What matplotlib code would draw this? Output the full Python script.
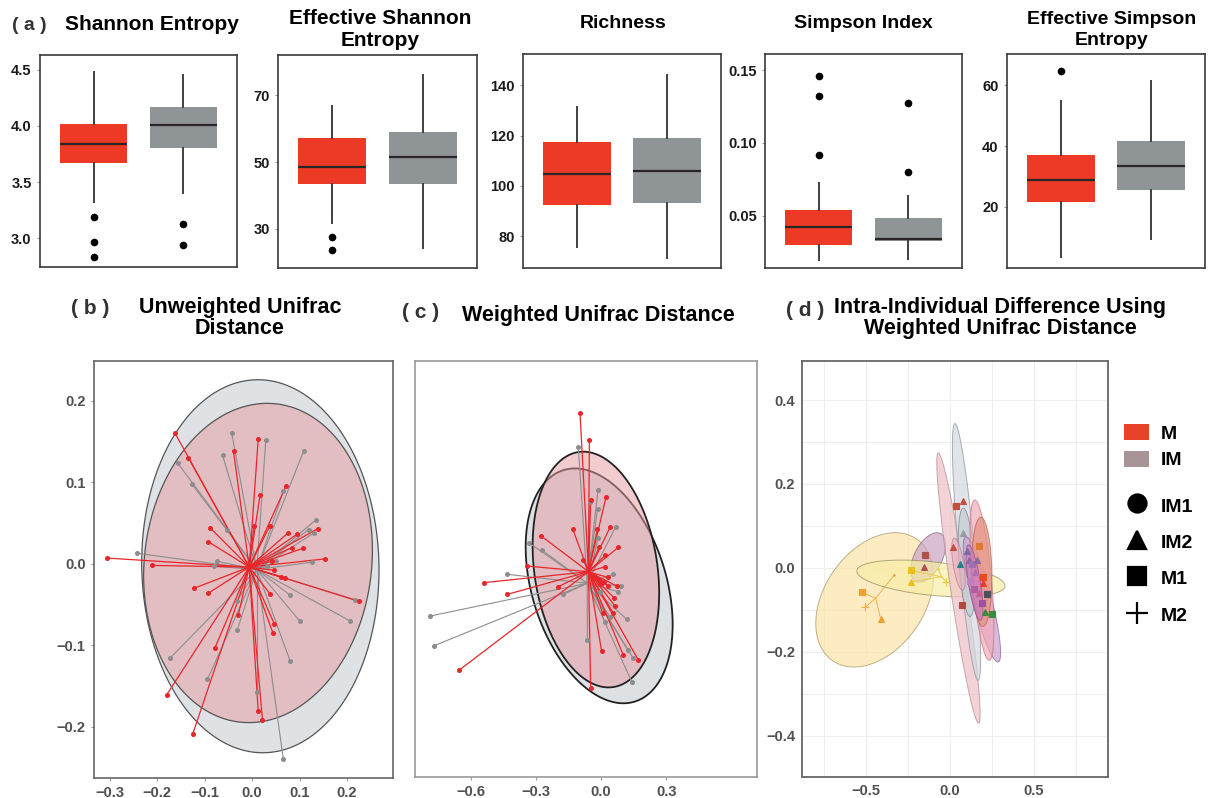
import numpy as np
import matplotlib
matplotlib.use("Agg")
from matplotlib import pyplot as plt
from matplotlib.patches import Patch
from matplotlib.lines import Line2D
from matplotlib.ticker import FuncFormatter, MultipleLocator

plt.rcParams['font.family'] = ['Liberation Sans', 'DejaVu Sans']
plt.rcParams['font.weight'] = 'bold'

W, H = 1214, 798

## (a) alpha diversity boxplots, one entry per panel
box_titles = ["Shannon Entropy", "Effective Shannon\nEntropy", "Richness",
              "Simpson Index", "Effective Simpson\nEntropy"]
box_yticks = [[3.0, 3.5, 4.0, 4.5], [30, 50, 70], [80, 100, 120, 140],
              [0.05, 0.10, 0.15], [20, 40, 60]]
box_fmt = ["%.1f", "%d", "%d", "%.2f", "%d"]
box_ylim = [(2.746, 4.629), (18.2, 82.1), (67.3, 152.5), (0.0141, 0.161), (-0.1, 70.3)]

red_whislo = [3.321, 31.8, 75.8, 0.0195, 3.4]
red_q1 = [3.667, 43.4, 92.4, 0.0299, 21.5]
red_med = [3.839, 48.6, 104.7, 0.0421, 28.8]
red_q3 = [4.016, 57.1, 117.4, 0.0541, 37.0]
red_whishi = [4.476, 66.8, 131.3, 0.0726, 54.9]
red_out = [[3.188, 2.971, 2.838], [27.6, 23.6], [], [0.1458, 0.132, 0.0918], [64.8]]

grey_whislo = [3.406, 24.1, 71.2, 0.0202, 9.6]
grey_q1 = [3.80, 43.4, 93.1, 0.0328, 25.5]
grey_med = [4.005, 51.4, 106.1, 0.0338, 33.5]
grey_q3 = [4.170, 59.1, 119.0, 0.0483, 41.6]
grey_whishi = [4.452, 76.1, 144.2, 0.0638, 61.4]
grey_out = [[3.131, 2.939], [], [], [0.1276, 0.080], []]

## (b) unweighted unifrac PCoA
b_red_x = [-0.305, -0.211, -0.162, -0.134, -0.088, -0.092, -0.122, -0.092, -0.180, -0.125,
           -0.078, -0.029, 0.013, -0.039, 0.017, 0.072, 0.004, 0.038, 0.076, 0.094,
           0.138, 0.084, 0.107, 0.154, 0.041, 0.046, 0.062, 0.069, 0.038, 0.225,
           0.047, 0.044, 0.013, 0.022]
b_red_y = [0.007, -0.002, 0.160, 0.130, 0.044, 0.027, -0.030, -0.036, -0.161, -0.209,
           -0.103, -0.063, 0.153, 0.138, 0.085, 0.096, 0.046, 0.047, 0.038, 0.036,
           0.043, 0.020, 0.019, 0.006, 0.003, -0.008, -0.016, -0.018, -0.037, -0.046,
           -0.074, -0.085, -0.181, -0.192]
b_grey_x = [-0.243, -0.157, -0.127, -0.043, -0.062, 0.029, 0.109, 0.066, -0.053, 0.135,
            0.119, 0.131, -0.073, -0.081, 0.126, 0.051, 0.217, 0.206, 0.100, 0.079,
            -0.032, -0.031, -0.173, -0.094, 0.010, 0.080, 0.066, 0.031]
b_grey_y = [0.013, 0.124, 0.098, 0.161, 0.133, 0.152, 0.139, 0.089, 0.042, 0.054,
            0.042, 0.038, 0.003, -0.003, 0.002, 0.003, -0.044, -0.070, -0.070, -0.038,
            -0.046, -0.081, -0.116, -0.142, -0.158, -0.119, -0.240, -0.003]
b_centroid_red = (-0.006, -0.004)
b_centroid_grey = (0.010, -0.007)
# ellipse: cx, cy, half-width x, half-height y, correlation
b_ell_grey = (0.0175, -0.003, 0.250, 0.229, -0.02)
b_ell_red = (0.0126, 0.001, 0.241, 0.196, 0.08)

## (c) weighted unifrac PCoA
c_red_x = [-0.097, -0.054, -0.048, -0.652, -0.537, -0.431, -0.339, -0.278, -0.131, -0.048,
           0.023, 0.041, -0.017, 0.079, -0.010, 0.020, 0.018, -0.082, -0.197, 0.033,
           0.072, 0.061, 0.064, 0.056, 0.007, 0.002, 0.102, 0.171, -0.011, -0.026,
           0.002, 0.030, 0.012, -0.005]
c_red_y = [0.744, 0.621, -0.521, -0.437, -0.035, -0.089, 0.041, 0.181, 0.212, 0.345,
           0.360, 0.219, 0.212, 0.127, 0.127, 0.092, 0.038, 0.069, -0.054, -0.051,
           -0.051, -0.107, -0.143, -0.176, -0.176, -0.350, -0.368, -0.391, -0.023, -0.011,
           -0.035, -0.011, -0.030, -0.040]
c_grey_x = [-0.105, -0.787, -0.767, -0.431, -0.330, -0.273, -0.174, -0.050, -0.016, 0.067,
            -0.013, 0.056, 0.090, 0.079, 0.118, -0.063, 0.141, 0.148, 0.122, 0.018,
            0.041, -0.004, -0.014]
c_grey_y = [0.590, -0.189, -0.325, 0.003, 0.146, 0.115, -0.089, 0.337, 0.304, 0.222,
            0.169, 0.003, -0.049, -0.077, -0.204, -0.299, -0.491, -0.383, -0.345, -0.215,
            -0.192, -0.077, 0.391]
c_centroid_red = (-0.058, 0.015)
c_centroid_grey = (-0.064, -0.038)
c_ell_grey = (-0.009, -0.050, 0.338, 0.540, -0.33)
c_ell_red = (-0.024, 0.025, 0.291, 0.542, -0.20)

## (d) intra-individual ellipses
d_ell_cx = [-0.449, -0.130, -0.114, 0.050, 0.098, 0.099, 0.050, 0.190, 0.190, 0.189, 0.145]
d_ell_cy = [-0.076, 0.025, -0.025, -0.048, 0.038, 0.0135, 0.009, -0.075, -0.029, -0.0095, -0.035]
d_ell_rx = [0.350, 0.104, 0.441, 0.129, 0.084, 0.050, 0.040, 0.111, 0.071, 0.060, 0.050]
d_ell_ry = [0.160, 0.059, 0.0437, 0.322, 0.306, 0.129, 0.062, 0.149, 0.191, 0.130, 0.090]
d_ell_rho = [0.35, 0.5, -0.4, -0.93, -0.82, -0.4, -0.6, -0.85, -0.6, -0.1, -0.7]
d_ell_face = ['#fde4a8', '#c9a3c2', '#f6eea6', '#efc0c7', '#d3d8dd', '#c6cad3',
              '#e8b0c0', '#c99ecf', '#f2abb9', '#e5917c', '#c77cc0']
d_ell_edge = ['#a89060', '#86657f', '#8f8a5a', '#b08890', '#8a9098', '#7a808a',
              '#b08090', '#8c6090', '#c07080', '#b06050', '#905090']

d_pt_x = [-0.526, -0.413, -0.506, -0.331, -0.232, -0.232, -0.024, -0.070, -0.149, -0.155,
          0.036, 0.079, 0.016, 0.073, 0.079, 0.060, 0.174, 0.198, 0.194, 0.222,
          0.248, 0.208, 0.188, 0.110, 0.130, 0.150, 0.120, 0.160, 0.140, 0.100, 0.170]
d_pt_y = [-0.058, -0.122, -0.094, -0.016, -0.006, -0.033, -0.033, -0.002, 0.031, 0.003,
          0.148, 0.160, 0.049, -0.088, 0.084, 0.0095, 0.052, -0.021, -0.037, -0.063,
          -0.110, -0.106, -0.084, 0.020, 0.010, -0.010, -0.030, 0.020, -0.050, 0.040, -0.060]
d_pt_shape = ['s', '^', '+', '.', 's', '^', '+', '.', 's', '^',
              's', '^', '^', 's', '^', '^', 's', 's', '^', 's',
              's', '^', 's', '^', 's', '^', 's', '^', 's', '^', '^']
d_pt_color = ['#f0a030', '#f0a030', '#f5b040', '#e0a040', '#e8c020', '#e8c020', '#e8c840',
              '#e8d040', '#b0504a', '#b0504a', '#c0503c', '#c0503c', '#c05040', '#b04a40',
              '#9a9aa4', '#2a7f8a', '#e07a30', '#e84a20', '#e04030', '#4a5060', '#3a8a40',
              '#3a8a40', '#a050a0', '#9060a0', '#a070b0', '#b070b0', '#c080c0', '#8a6aa0',
              '#b060a0', '#7a6aa0', '#c06090']
d_pt_group = [0, 0, 0, 0, 1, 1, 1, 1, -1, -1, -1, -1, -1, -1, -1, -1, -1, -1, -1, -1,
              -1, -1, -1, -1, -1, -1, -1, -1, -1, -1, -1]
d_group_cx = [-0.442, -0.050]
d_group_cy = [-0.072, -0.021]
d_group_color = ['#f0a840', '#e8c840']

legend_colors = ['#e8412c', '#a89497']
legend_color_labels = ['M', 'IM']
legend_shapes = ['o', '^', 's', '+']
legend_shape_labels = ['IM1', 'IM2', 'M1', 'M2']

fig = plt.figure(figsize=(W / 100, H / 100), dpi=100)


def add_ax(x0, y0, x1, y1):
    return fig.add_axes([x0 / W, 1 - y1 / H, (x1 - x0) / W, (y1 - y0) / H])


def ftext(x, y, s, size, **kw):
    fig.text(x / W, 1 - y / H, s, ha='center', va='center', fontsize=size,
             fontweight='bold', **kw)


def ellipse_xy(cx, cy, rx, ry, rho, n=240):
    t = np.linspace(0, 2 * np.pi, n)
    return cx + rx * np.cos(t), cy + ry * (rho * np.cos(t) + np.sqrt(1 - rho ** 2) * np.sin(t))


def minus_fmt(fmt):
    def f(v, p):
        s = fmt % v
        if s.strip('-0.') == '':
            s = s.lstrip('-')
        return s.replace('-', '\u2212')
    return FuncFormatter(f)


def frame(ax, color, lw):
    for sp in ax.spines.values():
        sp.set_color(color)
        sp.set_linewidth(lw)


## ---- (a) ----
box_px = [(40, 55, 237, 267), (278, 55, 477, 268), (523, 54, 721, 268),
          (765, 54, 962, 268), (1007, 54, 1205, 268)]
for i in range(5):
    ax = add_ax(*box_px[i])
    stats = [dict(med=red_med[i], q1=red_q1[i], q3=red_q3[i], whislo=red_whislo[i],
                  whishi=red_whishi[i], fliers=red_out[i]),
             dict(med=grey_med[i], q1=grey_q1[i], q3=grey_q3[i], whislo=grey_whislo[i],
                  whishi=grey_whishi[i], fliers=grey_out[i])]
    bp = ax.bxp(stats, positions=[1, 2], widths=0.75, patch_artist=True, showcaps=False,
                medianprops=dict(color='#262626', linewidth=1.6),
                whiskerprops=dict(color='#404040', linewidth=1.4),
                flierprops=dict(marker='o', markerfacecolor='black', markeredgecolor='black',
                                markersize=4.5))
    for patch, col in zip(bp['boxes'], ['#ec3a26', '#8f9497']):
        patch.set_facecolor(col)
        patch.set_edgecolor('none')
    ax.set_xlim(0.4, 2.6)
    ax.set_ylim(*box_ylim[i])
    ax.set_xticks([])
    ax.set_yticks(box_yticks[i])
    ax.yaxis.set_major_formatter(minus_fmt(box_fmt[i]))
    ax.tick_params(axis='y', length=2, color='#999999', pad=4, labelsize=10.5,
                   labelcolor='#1a1a1a')
    frame(ax, '#3a3a3a', 1.2)

ftext(29, 25, "( a )", 14, color='#333333')
ftext(152, 25, box_titles[0], 15)
ftext(380, 30, box_titles[1], 15, linespacing=1.2)
ftext(623, 23, box_titles[2], 14)
ftext(863, 23, box_titles[3], 14)
ftext(1112, 30, box_titles[4], 14, linespacing=1.25)


def spider(ax, xs, ys, cen, color, lw):
    for x, y in zip(xs, ys):
        ax.plot([cen[0], x], [cen[1], y], color=color, linewidth=lw, zorder=3)
    ax.plot(xs, ys, 'o', color=color, markersize=2.6, zorder=4)


## ---- (b) ----
axb = add_ax(94, 361, 393, 778)
ex, ey = ellipse_xy(*b_ell_grey)
axb.fill(ex, ey, facecolor='#dfe2e5', edgecolor='#555555', linewidth=0.9, zorder=1)
ex, ey = ellipse_xy(*b_ell_red)
axb.fill(ex, ey, facecolor=(0.9, 0.6, 0.63, 0.5), edgecolor='#555555', linewidth=0.9, zorder=2)
spider(axb, b_grey_x, b_grey_y, b_centroid_grey, '#8d8d8d', 0.8)
spider(axb, b_red_x, b_red_y, b_centroid_red, '#e8262a', 0.9)
axb.set_xlim(-0.333, 0.297)
axb.set_ylim(-0.263, 0.249)
axb.set_xticks([-0.3, -0.2, -0.1, 0.0, 0.1, 0.2])
axb.set_yticks([-0.2, -0.1, 0.0, 0.1, 0.2])
axb.xaxis.set_major_formatter(minus_fmt("%.1f"))
axb.yaxis.set_major_formatter(minus_fmt("%.1f"))
axb.tick_params(length=2, color='#999999', pad=4, labelsize=10.5, labelcolor='#505050')
frame(axb, '#666666', 1.2)
ftext(90, 308, "( b )", 15, color='#333333')
ftext(240, 318, "Unweighted Unifrac\nDistance", 15.5, linespacing=1.05)

## ---- (c) ----
axc = add_ax(415, 361, 757, 777)
ex, ey = ellipse_xy(*c_ell_grey)
axc.fill(ex, ey, facecolor='#dde1e4', edgecolor='#222222', linewidth=1.3, zorder=1)
ex, ey = ellipse_xy(*c_ell_red)
axc.fill(ex, ey, facecolor=(0.9, 0.6, 0.63, 0.5), edgecolor='#222222', linewidth=1.3, zorder=2)
spider(axc, c_grey_x, c_grey_y, c_centroid_grey, '#8d8d8d', 0.8)
spider(axc, c_red_x, c_red_y, c_centroid_red, '#e8262a', 0.9)
axc.set_xlim(-0.856, 0.717)
axc.set_ylim(-0.929, 0.984)
axc.set_xticks([-0.6, -0.3, 0.0, 0.3])
axc.set_yticks([])
axc.xaxis.set_major_formatter(minus_fmt("%.1f"))
axc.tick_params(length=2, color='#999999', pad=4, labelsize=10.5, labelcolor='#505050')
frame(axc, '#999999', 1.2)
ftext(421, 313, "( c )", 15, color='#333333')
ftext(598, 315, "Weighted Unifrac Distance", 15.5)

## ---- (d) ----
axd = add_ax(802, 361, 1108, 777)
axd.set_axisbelow(True)
axd.xaxis.set_minor_locator(MultipleLocator(0.25))
axd.yaxis.set_minor_locator(MultipleLocator(0.1))
axd.grid(which='both', color='#eeeeee', linewidth=0.8)
for k in range(len(d_ell_cx)):
    ex, ey = ellipse_xy(d_ell_cx[k], d_ell_cy[k], d_ell_rx[k], d_ell_ry[k], d_ell_rho[k])
    axd.fill(ex, ey, facecolor=d_ell_face[k], edgecolor=d_ell_edge[k], linewidth=0.7,
             alpha=0.7, zorder=2 + k * 0.01)
for k in range(len(d_pt_x)):
    g = d_pt_group[k]
    if g >= 0:
        axd.plot([d_group_cx[g], d_pt_x[k]], [d_group_cy[g], d_pt_y[k]],
                 color=d_group_color[g], linewidth=0.6, zorder=3)
for k in range(len(d_pt_x)):
    m = d_pt_shape[k]
    ms = 2 if m == '.' else (6 if m == '+' else 4)
    axd.plot(d_pt_x[k], d_pt_y[k], marker=m, color=d_pt_color[k], markersize=ms,
             markeredgewidth=0.8, linestyle='none', zorder=4)
axd.set_xlim(-0.881, 0.940)
axd.set_ylim(-0.498, 0.493)
axd.set_xticks([-0.5, 0.0, 0.5])
axd.set_yticks([-0.4, -0.2, 0.0, 0.2, 0.4])
axd.xaxis.set_major_formatter(minus_fmt("%.1f"))
axd.yaxis.set_major_formatter(minus_fmt("%.1f"))
axd.tick_params(which='both', length=0, pad=5, labelsize=10.5, labelcolor='#505050')
frame(axd, '#666666', 1.3)
ftext(805, 310, "( d )", 15, color='#333333')
ftext(1000, 318, "Intra-Individual Difference Using\nWeighted Unifrac Distance", 15.5,
      linespacing=1.05)

h1 = [Patch(facecolor=c, edgecolor='none') for c in legend_colors]
leg1 = axd.legend(h1, legend_color_labels, loc='upper left', frameon=False,
                  bbox_to_anchor=(1124 / W, 1 - 424 / H), bbox_transform=fig.transFigure,
                  prop=dict(weight='bold', size=14), handlelength=1.3, handleheight=0.9,
                  handletextpad=0.6, labelspacing=0.4, borderpad=0, borderaxespad=0)
axd.add_artist(leg1)
h2 = [Line2D([], [], marker=m, color='black', linestyle='none',
             markersize=(16 if m == '+' else 13), markeredgewidth=1.6) for m in legend_shapes]
axd.legend(h2, legend_shape_labels, loc='upper left', frameon=False,
           bbox_to_anchor=(1124 / W, 1 - 495 / H), bbox_transform=fig.transFigure,
           prop=dict(weight='bold', size=14), handlelength=1.3, handleheight=1.2,
           handletextpad=0.6, labelspacing=0.82, borderpad=0, borderaxespad=0)

fig.savefig("out.png", dpi=100)
